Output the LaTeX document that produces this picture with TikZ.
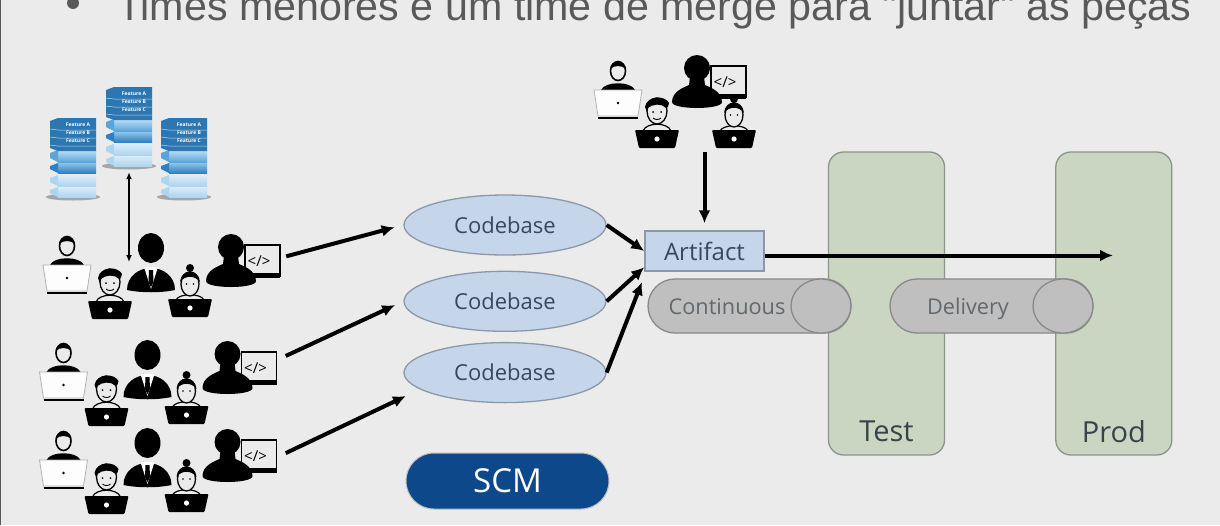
\documentclass[tikz,border=0pt]{standalone}
\usepackage{fontspec}
\usepackage{xcolor}
\usepackage{tikz}
\usetikzlibrary{arrows.meta,positioning,shapes.geometric,shapes.misc}
\setmainfont{Open Sans}
\newfontfamily\titlefont{Liberation Sans}
\definecolor{SlideBg}{RGB}{235,235,235}
\definecolor{TitleGray}{RGB}{89,89,89}
\definecolor{BaseBlue}{RGB}{197,214,234}
\definecolor{BaseLine}{RGB}{140,152,170}
\definecolor{BaseText}{RGB}{58,72,92}
\definecolor{EnvGreen}{RGB}{203,214,194}
\definecolor{EnvLine}{RGB}{138,148,136}
\definecolor{EnvText}{RGB}{55,68,72}
\definecolor{PipeGray}{RGB}{191,191,191}
\definecolor{PipeLine}{RGB}{135,138,138}
\definecolor{PipeText}{RGB}{100,104,106}
\definecolor{ScmBlue}{RGB}{12,72,138}
\definecolor{StackDark}{RGB}{44,118,178}
\definecolor{StackPaleUp}{RGB}{218,236,248}
\definecolor{StackPaleLow}{RGB}{172,213,240}
\definecolor{StackMidUp}{RGB}{190,222,244}
\definecolor{StackMidLow}{RGB}{90,165,220}
\definecolor{StackDeepUp}{RGB}{140,195,234}
\definecolor{StackDeepLow}{RGB}{47,128,194}
\newcommand{\sizefont}[1]{\fontsize{#1}{#1}\selectfont}

\begin{document}
\begin{tikzpicture}[
    x=1pt, y=1pt,
    node distance=15pt and 110pt,
    iconbox/.style={
      inner sep=0pt,
      minimum height=88pt
    },
    codebase/.style={
      draw=BaseLine,
      fill=BaseBlue,
      ellipse,
      line width=1.3pt,
      inner sep=0pt,
      minimum width=202pt,
      minimum height=60pt,
      text=BaseText,
      font=\sizefont{22}
    },
    artifactbox/.style={
      draw=BaseLine,
      fill=BaseBlue,
      line width=1.5pt,
      inner sep=0pt,
      minimum width=119pt,
      minimum height=40pt,
      text=BaseText,
      font=\sizefont{24}
    },
    envbox/.style={
      draw=EnvLine,
      fill=EnvGreen,
      line width=1.3pt,
      rounded corners=15pt,
      minimum width=116pt,
      minimum height=303pt
    },
    envtext/.style={
      text=EnvText,
      font=\sizefont{29}
    },
    pipe/.style={
      draw=PipeLine,
      fill=PipeGray,
      rounded rectangle,
      line width=1.3pt,
      inner sep=0pt,
      minimum width=203pt,
      minimum height=54pt
    },
    pipecap/.style={
      draw=PipeLine,
      fill=PipeGray,
      ellipse,
      line width=1.3pt,
      inner sep=0pt,
      minimum width=60pt,
      minimum height=54pt
    },
    pipetext/.style={
      text=PipeText,
      anchor=base,
      font=\sizefont{21.7}
    },
    arrow/.style={-{Latex[length=13pt,width=12pt]}, line width=4pt},
    stackrow/.style={text=white, inner sep=0pt, font=\bfseries\sizefont{5}},
    blacklaptop/.pic={
      \fill[rounded corners=1pt] (-22,9) -- (22,9) -- (18,-9) -- (-18,-9) -- cycle;
      \fill[white] (0,0) circle (2.6pt);
    },
    laptopman/.pic={
      \fill (-17,0) .. controls (-13,9) and (13,9) .. (17,0) -- cycle;
      \draw[line width=1.6pt, fill=SlideBg] (0,19) ellipse (7.5pt and 9.5pt);
      \fill (-8,21) .. controls (-7,31) and (7,31) .. (8,21) .. controls (3,25) and (-3,25) .. (-8,21) -- cycle;
      \draw[gray!60, fill=white!92!SlideBg, line width=.8pt] (-24,0) -- (24,0) -- (20,-26) -- (-20,-26) -- cycle;
      \draw[line width=1.5pt] (-20,-28) -- (20,-28);
      \fill (0,-13) circle (1.3pt);
    },
    boylaptop/.pic={
      \draw[line width=1.2pt, fill=SlideBg] (-14,8) .. controls (-11,17) and (11,17) .. (14,8);
      \draw[line width=1.3pt, fill=SlideBg] (0,28) ellipse (10pt and 13pt);
      \fill (-12,32) .. controls (-10,44) and (8,44) .. (12,36) .. controls (11,31) and (10,31) .. (9,31) .. controls (5,36) and (-5,35) .. (-9,31) -- (-10,27) -- cycle;
      \draw[line width=.9pt] (-4,21) .. controls (-2,19) and (2,19) .. (4,21);
      \fill (-4,27) circle (1pt) (4,27) circle (1pt);
      \pic {blacklaptop};
    },
    girllaptop/.pic={
      \draw[line width=1.2pt, fill=SlideBg] (-14,8) .. controls (-11,15) and (11,15) .. (14,8);
      \draw[line width=1.3pt, fill=SlideBg] (0,24) ellipse (9pt and 12pt);
      \fill (-10,26) .. controls (-9,40) and (9,40) .. (10,26) .. controls (5,33) and (-5,33) .. (-10,26) -- cycle;
      \fill (0,40) circle (4pt);
      \fill (-3.5,24) circle (.9pt) (3.5,24) circle (.9pt);
      \pic {blacklaptop};
    },
    suitman/.pic={
      \fill (-24,0) .. controls (-24,14) and (-12,22) .. (0,22) .. controls (12,22) and (24,14) .. (24,0) .. controls (10,-3) and (-10,-3) .. (-24,0) -- cycle;
      \fill (0,42) ellipse (13pt and 15pt);
      \fill[white] (-7,23) -- (7,23) -- (0,1) -- cycle;
      \fill (-2,20) -- (2,20) -- (2.5,8) -- (0,3) -- (-2.5,8) -- cycle;
    },
    devscreen/.pic={
      \draw[line width=1.3pt, fill=SlideBg] (14,35) rectangle (49,4);
      \fill (14,7) rectangle (49,2);
      \node[font=\sizefont{15}, inner sep=0pt] (code) at (28,19) {</>};
      \fill (0,33) circle (13pt);
      \fill (-25,-1) .. controls (-25,10) and (-12,14) .. (-8,16) -- (-7,24) -- (7,24) -- (8,16)
        .. controls (12,14) and (25,10) .. (25,-1) .. controls (25,-9) and (-25,-9) .. (-25,-1) -- cycle;
    },
    team/.pic={
      \pic at (-95,11) {laptopman};
      \pic at (-52,-34) {boylaptop};
      \pic at (-11,-14) {suitman};
      \pic at (69,-4) {devscreen};
      \pic at (28,-32) {girllaptop};
    },
    smallteam/.pic={
      \pic at (-57,13.5) {laptopman};
      \pic at (-18,-35.5) {boylaptop};
      \pic at (22,2.5) {devscreen};
      \pic at (59,-35.5) {girllaptop};
    },
    stack/.pic={
      \fill[gray!70] (0,-38) ellipse (27pt and 3.5pt);
      \foreach \rowtop/\rowbot/\rowup/\rowlow in {
          -16/-27/StackPaleUp/StackPaleLow,
          -28/-38/StackPaleUp/StackPaleLow,
          9/-3/StackMidUp/StackMidLow,
          -4/-14/StackDeepUp/StackDeepLow}{
        \shade[top color=\rowup, bottom color=\rowlow] (-15,\rowtop) rectangle (23,\rowbot);
        \fill[\rowlow] (-23,\rowtop-3) -- (-15,\rowtop) -- (-15,\rowbot) -- (-23,\rowbot+4) -- cycle;
      }
      \fill[StackDark] (-15,41) -- (23,41) -- (23,8) -- (-15,8) -- (-23,11) -- (-23,38) -- cycle;
      \foreach \rowy/\rowname in {34/A,26/B,18/C}{
        \draw[white!70!StackDark, line width=.5pt] (-23,\rowy-4) -- (-15,\rowy-5) -- (23,\rowy-5);
        \node[stackrow] (row-\rowname) at (5,\rowy) {Feature \rowname};
      }
    }
  ]
    \path[use as bounding box, clip] (0,0) rectangle (1220,-525);
    \fill[SlideBg] (0,0) rectangle (1220,-525);
    \draw[gray!70!black, line width=2pt] (0,0) -- (0,-525);

    \node[inner sep=0pt, anchor=center, circle, fill=TitleGray, minimum size=12pt] (bullet) at (73,-3) {};
    \node[inner sep=0pt, anchor=base west, text=TitleGray, font=\titlefont\sizefont{41.2}] (title) at (117,-20)
      {Times menores e um time de merge para "juntar" as peças};

    \node[iconbox, minimum width=50pt] (stack-a) at (73,-159) {};
    \node[iconbox, minimum width=50pt] (stack-b) at (129,-128) {};
    \node[iconbox, minimum width=50pt] (stack-c) at (184,-159) {};
    \pic at (stack-a) {stack};
    \pic at (stack-b) {stack};
    \pic at (stack-c) {stack};

    \node[iconbox, minimum width=248pt] (team-a) at (162,-276) {};
    \node[iconbox, minimum width=254pt] (team-b) at (158.5,-383) {};
    \node[iconbox, minimum width=254pt] (team-c) at (158.5,-471) {};
    \node[iconbox, minimum width=170pt, minimum height=97pt] (team-top) at (675,-103.5) {};
    \pic at (team-a) {team};
    \pic at (team-b) {team};
    \pic at (team-c) {team};
    \pic at (team-top) {smallteam};

    \node[codebase] (codebase-a) at (505,-225) {Codebase};
    \node[codebase, below=of codebase-a] (codebase-b) {Codebase};
    \node[codebase, below=10pt of codebase-b] (codebase-c) {Codebase};
    \coordinate (codebase-c-in) at (406,-396);

    \node[draw=gray!50, fill=ScmBlue, rounded rectangle, line width=1pt, inner sep=0pt,
      minimum width=203pt, minimum height=56pt, text=white, font=\sizefont{33}] (scm) at (507.5,-481) {SCM};

    \node[envbox] (test) at (886.5,-303.5) {};
    \node[envbox, right=of test] (prod) {};
    \node[envtext] (test-label) at ([yshift=24pt]test.south) {Test};
    \node[envtext] (prod-label) at ([yshift=24pt]prod.south) {Prod};

    \node[artifactbox] (artifact) at (704.5,-251) {Artifact};
    \coordinate (artifact-in) at (642,-282);
    \coordinate (release) at (1113,-255.5);

    \node[pipe] (pipe-a) at (749.5,-306) {};
    \node[pipecap, anchor=east] (cap-a) at (pipe-a.east) {};
    \node[pipetext] (continuous) at (727,-314) {Continuous};
    \node[pipe] (pipe-b) at (991.5,-306) {};
    \node[pipecap, anchor=east] (cap-b) at (pipe-b.east) {};
    \node[pipetext] (delivery) at (968,-314) {Delivery};

    \draw[{Latex[length=7pt,width=6pt]}-{Latex[length=7pt,width=6pt]}, line width=1.4pt, shorten >=14pt]
      (stack-b.south) -- (stack-b.south |- team-a.center);

    \draw[arrow, shorten >=9pt] (team-a.9) -- (codebase-a.west);
    \draw[arrow, shorten >=9pt] (team-b.12) -- (codebase-b.west);
    \draw[arrow] (team-c.8) -- (codebase-c-in);

    \draw[arrow] (codebase-a.east) -- (artifact.west);
    \draw[arrow] (codebase-b.east) -- (artifact.195);
    \draw[arrow] (codebase-c.east) -- (artifact-in);

    \draw[arrow, shorten >=7pt] (team-top.south -| artifact.north) -- (artifact.north);
    \draw[arrow] (artifact.east |- release) -- (release);
  \end{tikzpicture}
\end{document}
